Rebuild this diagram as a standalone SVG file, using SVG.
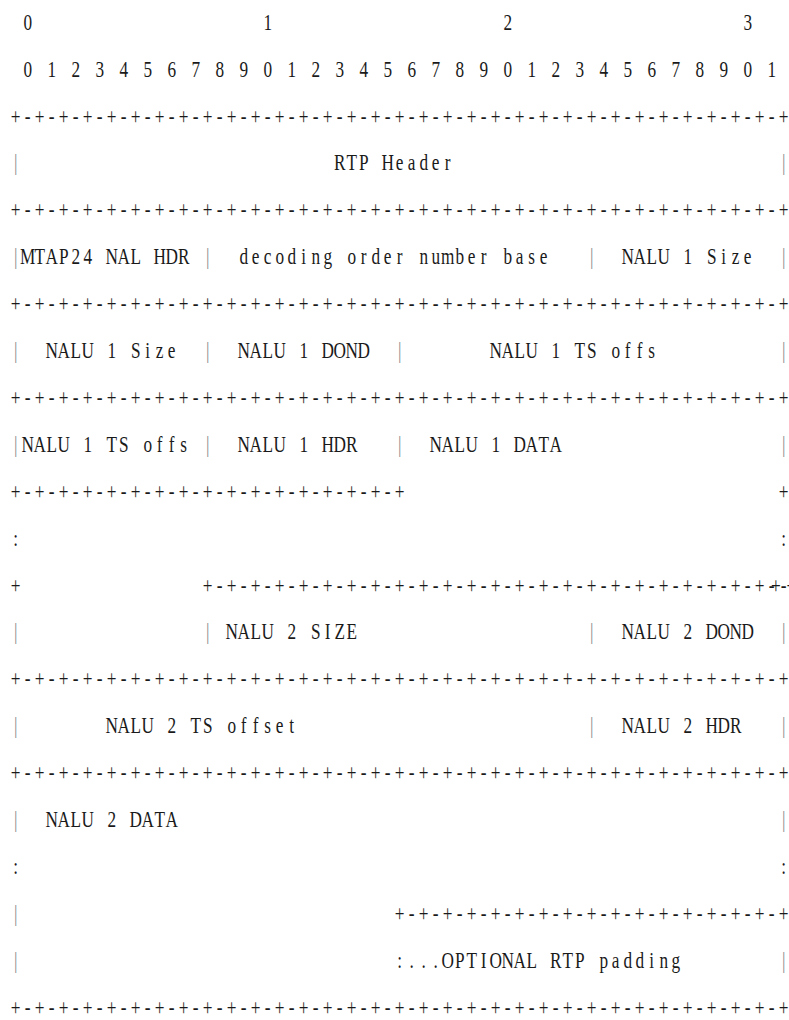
<svg xmlns="http://www.w3.org/2000/svg" width="789" height="1020" viewBox="0 0 789 1020">
<style>
text{font-family:"Liberation Serif","Times New Roman",serif;font-size:23px;fill:#1a1a1a;text-anchor:middle;white-space:pre}
.b{fill:#8a8a8a}
</style>
<rect width="789" height="1020" fill="#ffffff"/>
<g id="diagram" transform="translate(15.7,0) scale(0.75,1)" xml:space="preserve">
<g id="ruler">
<text y="29.8" x="0 16 32 48 64 80 96 112 128 144 160 176 192 208 224 240 256 272 288 304 320 336 352 368 384 400 416 432 448 464 480 496 512 528 544 560 576 592 608 624 640 656 672 688 704 720 736 752 768 784 800 816 832 848 864 880 896 912 928 944 960 976 992 1008 1024"> 0                   1                   2                   3</text>
<text y="76.7" x="0 16 32 48 64 80 96 112 128 144 160 176 192 208 224 240 256 272 288 304 320 336 352 368 384 400 416 432 448 464 480 496 512 528 544 560 576 592 608 624 640 656 672 688 704 720 736 752 768 784 800 816 832 848 864 880 896 912 928 944 960 976 992 1008 1024"> 0 1 2 3 4 5 6 7 8 9 0 1 2 3 4 5 6 7 8 9 0 1 2 3 4 5 6 7 8 9 0 1</text>
</g>
<g id="rtp-header">
<text y="123.6" x="0 16 32 48 64 80 96 112 128 144 160 176 192 208 224 240 256 272 288 304 320 336 352 368 384 400 416 432 448 464 480 496 512 528 544 560 576 592 608 624 640 656 672 688 704 720 736 752 768 784 800 816 832 848 864 880 896 912 928 944 960 976 992 1008 1024">+-+-+-+-+-+-+-+-+-+-+-+-+-+-+-+-+-+-+-+-+-+-+-+-+-+-+-+-+-+-+-+-+</text>
<text y="170.5" x="0 16 32 48 64 80 96 112 128 144 160 176 192 208 224 240 256 272 288 304 320 336 352 368 384 400 416 432 448 464 480 496 512 528 544 560 576 592 608 624 640 656 672 688 704 720 736 752 768 784 800 816 832 848 864 880 896 912 928 944 960 976 992 1008 1024"><tspan class="b">|</tspan>                          RTP Header                           <tspan class="b">|</tspan></text>
<text y="217.4" x="0 16 32 48 64 80 96 112 128 144 160 176 192 208 224 240 256 272 288 304 320 336 352 368 384 400 416 432 448 464 480 496 512 528 544 560 576 592 608 624 640 656 672 688 704 720 736 752 768 784 800 816 832 848 864 880 896 912 928 944 960 976 992 1008 1024">+-+-+-+-+-+-+-+-+-+-+-+-+-+-+-+-+-+-+-+-+-+-+-+-+-+-+-+-+-+-+-+-+</text>
</g>
<g id="row-mtap">
<text y="264.3" x="0 16 32 48 64 80 96 112 128 144 160 176 192 208 224 240 256 272 288 304 320 336 352 368 384 400 416 432 448 464 480 496 512 528 544 560 576 592 608 624 640 656 672 688 704 720 736 752 768 784 800 816 832 848 864 880 896 912 928 944 960 976 992 1008 1024"><tspan class="b">|</tspan>MTAP24 NAL HDR <tspan class="b">|</tspan>  decoding order number base   <tspan class="b">|</tspan>  NALU 1 Size  <tspan class="b">|</tspan></text>
<text y="311.2" x="0 16 32 48 64 80 96 112 128 144 160 176 192 208 224 240 256 272 288 304 320 336 352 368 384 400 416 432 448 464 480 496 512 528 544 560 576 592 608 624 640 656 672 688 704 720 736 752 768 784 800 816 832 848 864 880 896 912 928 944 960 976 992 1008 1024">+-+-+-+-+-+-+-+-+-+-+-+-+-+-+-+-+-+-+-+-+-+-+-+-+-+-+-+-+-+-+-+-+</text>
</g>
<g id="row-nalu1a">
<text y="358.1" x="0 16 32 48 64 80 96 112 128 144 160 176 192 208 224 240 256 272 288 304 320 336 352 368 384 400 416 432 448 464 480 496 512 528 544 560 576 592 608 624 640 656 672 688 704 720 736 752 768 784 800 816 832 848 864 880 896 912 928 944 960 976 992 1008 1024"><tspan class="b">|</tspan>  NALU 1 Size  <tspan class="b">|</tspan>  NALU 1 DOND  <tspan class="b">|</tspan>       NALU 1 TS offs          <tspan class="b">|</tspan></text>
<text y="405.0" x="0 16 32 48 64 80 96 112 128 144 160 176 192 208 224 240 256 272 288 304 320 336 352 368 384 400 416 432 448 464 480 496 512 528 544 560 576 592 608 624 640 656 672 688 704 720 736 752 768 784 800 816 832 848 864 880 896 912 928 944 960 976 992 1008 1024">+-+-+-+-+-+-+-+-+-+-+-+-+-+-+-+-+-+-+-+-+-+-+-+-+-+-+-+-+-+-+-+-+</text>
</g>
<g id="row-nalu1b">
<text y="451.9" x="0 16 32 48 64 80 96 112 128 144 160 176 192 208 224 240 256 272 288 304 320 336 352 368 384 400 416 432 448 464 480 496 512 528 544 560 576 592 608 624 640 656 672 688 704 720 736 752 768 784 800 816 832 848 864 880 896 912 928 944 960 976 992 1008 1024"><tspan class="b">|</tspan>NALU 1 TS offs <tspan class="b">|</tspan>  NALU 1 HDR   <tspan class="b">|</tspan>  NALU 1 DATA                  <tspan class="b">|</tspan></text>
<text y="498.8" x="0 16 32 48 64 80 96 112 128 144 160 176 192 208 224 240 256 272 288 304 320 336 352 368 384 400 416 432 448 464 480 496 512 528 544 560 576 592 608 624 640 656 672 688 704 720 736 752 768 784 800 816 832 848 864 880 896 912 928 944 960 976 992 1008 1024">+-+-+-+-+-+-+-+-+-+-+-+-+-+-+-+-+                               +</text>
<text y="545.7" x="0 16 32 48 64 80 96 112 128 144 160 176 192 208 224 240 256 272 288 304 320 336 352 368 384 400 416 432 448 464 480 496 512 528 544 560 576 592 608 624 640 656 672 688 704 720 736 752 768 784 800 816 832 848 864 880 896 912 928 944 960 976 992 1008 1024">:                                                               :</text>
<text y="592.6" x="0 16 32 48 64 80 96 112 128 144 160 176 192 208 224 240 256 272 288 304 320 336 352 368 384 400 416 432 448 464 480 496 512 528 544 560 576 592 608 624 640 656 672 688 704 720 736 752 768 784 800 816 832 848 864 880 896 912 928 944 960 976 992 1008 1024">+               +-+-+-+-+-+-+-+-+-+-+-+-+-+-+-+-+-+-+-+-+-+-+-+-+-+</text>
</g>
<g id="row-nalu2a">
<text y="639.5" x="0 16 32 48 64 80 96 112 128 144 160 176 192 208 224 240 256 272 288 304 320 336 352 368 384 400 416 432 448 464 480 496 512 528 544 560 576 592 608 624 640 656 672 688 704 720 736 752 768 784 800 816 832 848 864 880 896 912 928 944 960 976 992 1008 1024"><tspan class="b">|</tspan>               <tspan class="b">|</tspan> NALU 2 SIZE                   <tspan class="b">|</tspan>  NALU 2 DOND  <tspan class="b">|</tspan></text>
<text y="686.4" x="0 16 32 48 64 80 96 112 128 144 160 176 192 208 224 240 256 272 288 304 320 336 352 368 384 400 416 432 448 464 480 496 512 528 544 560 576 592 608 624 640 656 672 688 704 720 736 752 768 784 800 816 832 848 864 880 896 912 928 944 960 976 992 1008 1024">+-+-+-+-+-+-+-+-+-+-+-+-+-+-+-+-+-+-+-+-+-+-+-+-+-+-+-+-+-+-+-+-+</text>
</g>
<g id="row-nalu2b">
<text y="733.3" x="0 16 32 48 64 80 96 112 128 144 160 176 192 208 224 240 256 272 288 304 320 336 352 368 384 400 416 432 448 464 480 496 512 528 544 560 576 592 608 624 640 656 672 688 704 720 736 752 768 784 800 816 832 848 864 880 896 912 928 944 960 976 992 1008 1024"><tspan class="b">|</tspan>       NALU 2 TS offset                        <tspan class="b">|</tspan>  NALU 2 HDR   <tspan class="b">|</tspan></text>
<text y="780.2" x="0 16 32 48 64 80 96 112 128 144 160 176 192 208 224 240 256 272 288 304 320 336 352 368 384 400 416 432 448 464 480 496 512 528 544 560 576 592 608 624 640 656 672 688 704 720 736 752 768 784 800 816 832 848 864 880 896 912 928 944 960 976 992 1008 1024">+-+-+-+-+-+-+-+-+-+-+-+-+-+-+-+-+-+-+-+-+-+-+-+-+-+-+-+-+-+-+-+-+</text>
</g>
<g id="row-nalu2-data">
<text y="827.1" x="0 16 32 48 64 80 96 112 128 144 160 176 192 208 224 240 256 272 288 304 320 336 352 368 384 400 416 432 448 464 480 496 512 528 544 560 576 592 608 624 640 656 672 688 704 720 736 752 768 784 800 816 832 848 864 880 896 912 928 944 960 976 992 1008 1024"><tspan class="b">|</tspan>  NALU 2 DATA                                                  <tspan class="b">|</tspan></text>
<text y="874.0" x="0 16 32 48 64 80 96 112 128 144 160 176 192 208 224 240 256 272 288 304 320 336 352 368 384 400 416 432 448 464 480 496 512 528 544 560 576 592 608 624 640 656 672 688 704 720 736 752 768 784 800 816 832 848 864 880 896 912 928 944 960 976 992 1008 1024">:                                                               :</text>
<text y="920.9" x="0 16 32 48 64 80 96 112 128 144 160 176 192 208 224 240 256 272 288 304 320 336 352 368 384 400 416 432 448 464 480 496 512 528 544 560 576 592 608 624 640 656 672 688 704 720 736 752 768 784 800 816 832 848 864 880 896 912 928 944 960 976 992 1008 1024"><tspan class="b">|</tspan>                               +-+-+-+-+-+-+-+-+-+-+-+-+-+-+-+-+</text>
<text y="967.8" x="0 16 32 48 64 80 96 112 128 144 160 176 192 208 224 240 256 272 288 304 320 336 352 368 384 400 416 432 448 464 480 496 512 528 544 560 576 592 608 624 640 656 672 688 704 720 736 752 768 784 800 816 832 848 864 880 896 912 928 944 960 976 992 1008 1024"><tspan class="b">|</tspan>                               :...OPTIONAL RTP padding        <tspan class="b">|</tspan></text>
<text y="1014.7" x="0 16 32 48 64 80 96 112 128 144 160 176 192 208 224 240 256 272 288 304 320 336 352 368 384 400 416 432 448 464 480 496 512 528 544 560 576 592 608 624 640 656 672 688 704 720 736 752 768 784 800 816 832 848 864 880 896 912 928 944 960 976 992 1008 1024">+-+-+-+-+-+-+-+-+-+-+-+-+-+-+-+-+-+-+-+-+-+-+-+-+-+-+-+-+-+-+-+-+</text>
</g>
</g>
</svg>
